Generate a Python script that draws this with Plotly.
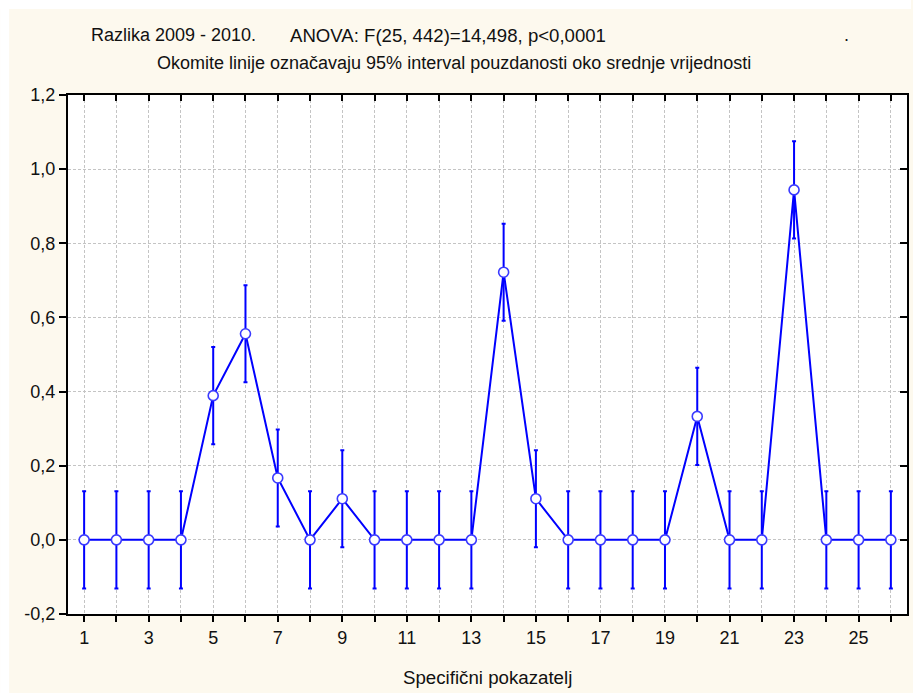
import plotly.graph_objects as go

# Group index (specific indicator) and mean difference 2009 - 2010
indicators = list(range(1, 27))
means = [0.0, 0.0, 0.0, 0.0, 0.389, 0.556, 0.167, 0.0, 0.111, 0.0,
         0.0, 0.0, 0.0, 0.722, 0.111, 0.0, 0.0, 0.0, 0.0, 0.333,
         0.0, 0.0, 0.944, 0.0, 0.0, 0.0]
# Half-width of the 95% confidence interval for each group
ci_half = [0.131] * 26

y_tickvals = [-0.2, 0.0, 0.2, 0.4, 0.6, 0.8, 1.0, 1.2]
y_ticktext = ["-0,2", "0,0", "0,2", "0,4", "0,6", "0,8", "1,0", "1,2"]
x_tickvals = indicators
x_ticktext = [str(i) if i % 2 == 1 else "" for i in indicators]

title_left = "Razlika 2009 - 2010."
title_anova = "ANOVA: F(25, 442)=14,498, p<0,0001"
subtitle = "Okomite linije označavaju 95% interval pouzdanosti oko srednje vrijednosti"
x_title = "Specifični pokazatelj"

W, H = 913, 693
ML, MR, MT, MB = 68, 4, 95, 79
PW, PH = W - ML - MR, H - MT - MB

def px_x(px):
    return (px - ML) / PW

def px_y(py):
    return (H - MB - py) / PH

FONT = "Liberation Sans, Arial, sans-serif"
BLUE = "#0000ff"
CREAM = "#fdf9ee"
GRID = "#c4c4c4"
TEXT = "#111111"

fig = go.Figure()
fig.add_trace(go.Scatter(
    x=indicators, y=means,
    mode="lines+markers",
    line=dict(color=BLUE, width=2),
    marker=dict(symbol="circle", size=10, color="white",
                line=dict(color="#3a3aff", width=1.6)),
    error_y=dict(type="data", array=ci_half, visible=True,
                 color=BLUE, thickness=2, width=2),
    showlegend=False,
    cliponaxis=False,
))

axis_font = dict(family=FONT, size=18, color=TEXT)
fig.update_layout(
    width=W, height=H,
    margin=dict(l=ML, r=MR, t=MT, b=MB, pad=0),
    paper_bgcolor=CREAM,
    plot_bgcolor="white",
    font=dict(family=FONT, color=TEXT),
    xaxis=dict(
        range=[0.5, 26.5], tickmode="array",
        tickvals=x_tickvals, ticktext=x_ticktext,
        ticks="outside", ticklen=6, tickwidth=1.5, tickcolor="black",
        showline=True, linecolor="black", linewidth=2, mirror=True,
        showgrid=True, gridcolor=GRID, gridwidth=1, griddash="3px,2px",
        zeroline=False, tickfont=axis_font,
    ),
    yaxis=dict(
        range=[-0.2, 1.2], tickmode="array",
        tickvals=y_tickvals, ticktext=y_ticktext,
        ticks="outside", ticklen=7, tickwidth=1.5, tickcolor="black",
        showline=True, linecolor="black", linewidth=2, mirror=True,
        showgrid=True, gridcolor=GRID, gridwidth=1, griddash="3px,2px",
        zeroline=False, tickfont=axis_font,
    ),
    # companion axes carrying the inward ticks on the top and right frame
    xaxis2=dict(
        overlaying="x", side="top", matches="x", range=[0.5, 26.5],
        tickmode="array", tickvals=x_tickvals, showticklabels=False,
        ticks="inside", ticklen=6, tickwidth=1.5, tickcolor="black",
        showgrid=False, showline=False, zeroline=False,
    ),
    yaxis2=dict(
        overlaying="y", side="right", matches="y", range=[-0.2, 1.2],
        tickmode="array", tickvals=y_tickvals, showticklabels=False,
        ticks="inside", ticklen=7, tickwidth=1.5, tickcolor="black",
        showgrid=False, showline=False, zeroline=False,
    ),
)

# invisible trace to activate the companion axes
fig.add_trace(go.Scatter(x=[indicators[0]], y=[means[0]], xaxis="x2", yaxis="y2",
                         mode="markers", marker=dict(opacity=0), showlegend=False,
                         hoverinfo="skip"))

# white margin strips along the left and top edges
fig.add_shape(type="rect", xref="paper", yref="paper", layer="below",
              x0=px_x(0), x1=px_x(9), y0=px_y(H), y1=px_y(0),
              fillcolor="white", line=dict(width=0))
fig.add_shape(type="rect", xref="paper", yref="paper", layer="below",
              x0=px_x(0), x1=px_x(W), y0=px_y(9), y1=px_y(0),
              fillcolor="white", line=dict(width=0))

title_font = dict(family=FONT, size=18, color=TEXT)
fig.add_annotation(text=title_left, xref="paper", yref="paper",
                   x=px_x(89), y=px_y(35), xanchor="left", yanchor="middle",
                   showarrow=False, font=title_font)
fig.add_annotation(text=title_anova, xref="paper", yref="paper",
                   x=px_x(289), y=px_y(35), xanchor="left", yanchor="middle",
                   showarrow=False, font=dict(family=FONT, size=18.6, color=TEXT))
fig.add_annotation(text=".", xref="paper", yref="paper",
                   x=px_x(844), y=px_y(35), xanchor="left", yanchor="middle",
                   showarrow=False, font=title_font)
fig.add_annotation(text=subtitle, xref="paper", yref="paper",
                   x=px_x(455), y=px_y(63), xanchor="center", yanchor="middle",
                   showarrow=False, font=title_font)
fig.add_annotation(text=x_title, xref="paper", yref="paper",
                   x=px_x(488), y=px_y(677), xanchor="center", yanchor="middle",
                   showarrow=False, font=dict(family=FONT, size=18.7, color=TEXT))

fig.write_html("out.html")
